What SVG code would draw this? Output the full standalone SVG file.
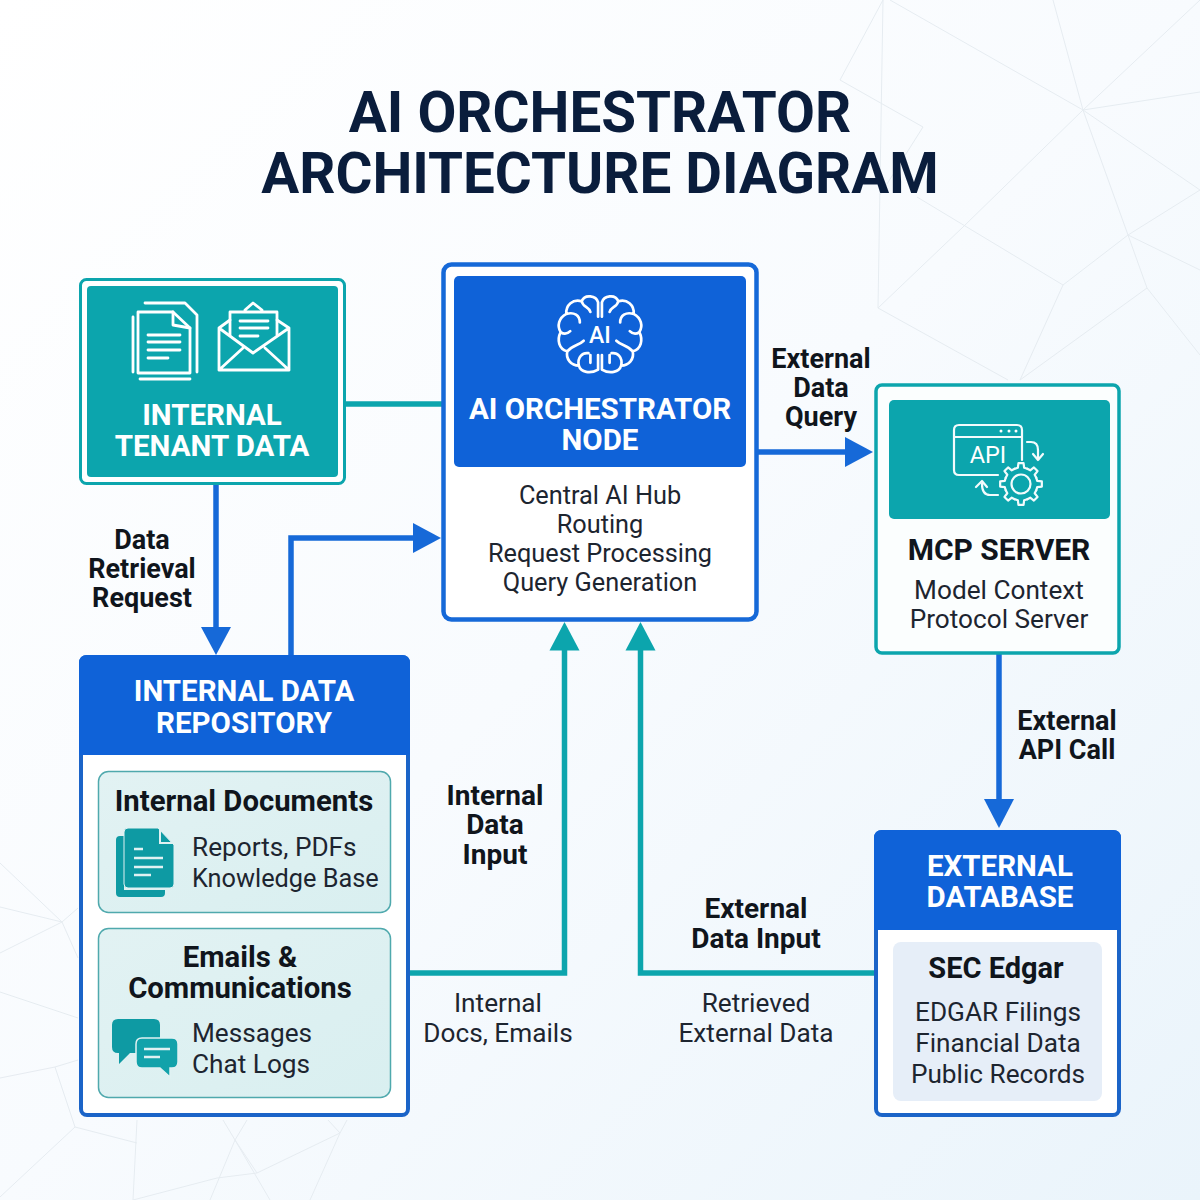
<svg xmlns="http://www.w3.org/2000/svg" width="1200" height="1200" viewBox="0 0 1200 1200">
<style>
text{font-family:Roboto,"Liberation Sans",sans-serif;text-anchor:middle}
.title{font-size:56.500px;font-weight:700;fill:#0a1d3c}
.hw{font-weight:700;fill:#fff;font-size:29.500px}
.lb{font-weight:700;fill:#10151c;font-size:27px}
.lb2{font-weight:700;fill:#10151c;font-size:28px}
.sub{font-weight:400;fill:#1d2530;font-size:26.200px}
.sub2{font-weight:400;fill:#1d2530;font-size:25.300px}
.head{font-weight:700;fill:#10151c;font-size:29.300px}
.st{text-anchor:start}
.ic{fill:none;stroke:#fff;stroke-width:2.800;stroke-linecap:round;stroke-linejoin:round}
.ic2{fill:none;stroke:#f2fbfc;stroke-width:2.200;stroke-linecap:round;stroke-linejoin:round}
.gl{fill:none;stroke:#e0f1f2;stroke-width:2.500}
.bg{fill:none;stroke:#e6ecf1;stroke-width:1}
.t{fill:none;stroke:#0ca5ad;stroke-width:5.500}
.b{fill:none;stroke:#1669d8;stroke-width:5.500}
.tf{fill:#0ca5ad}
.bf{fill:#1669d8}
</style>
<defs>
<linearGradient id="bgg" x1="0" y1="0" x2="1" y2="1"><stop offset="0" stop-color="#fff"/><stop offset=".5" stop-color="#f8fbfe"/><stop offset="1" stop-color="#eaf4fb"/></linearGradient>
<linearGradient id="card" x1="0" y1="0" x2="1" y2="1"><stop offset="0" stop-color="#e2f2f3"/><stop offset="1" stop-color="#d9eff0"/></linearGradient>
<path id="brain-half" d="M598 316V301C596 294 584 292 581 300C572 297 564 304 565 313C557 317 555 326 559 332C555 340 557 350 566 352C564 360 570 367 578 367C580 374 590 376 598 371V356M581 300C582 306 589 306 590 311M565 313C573 311 579 314 579 322M559 332C563 335 566 334 569 331M566 352C571 346 578 346 583 341M578 367C576 358 582 353 588 354M590 364V356"/>
<path id="tooth" d="M-6.310 -15.240L-3.150 -16.200L-2.560 -20.840H2.560L3.150 -16.200L6.310 -15.240"/>
</defs>
<rect width="1200" height="1200" fill="url(#bgg)"/>
<g id="background">
<path class="bg" d="M883 0L840 80L923 127L880 195M883 0L878 308L963 227L1083 110L1200 0M1083 110L1200 92M1083 110L1053 0M890 0L1083 110L1128 235L1147 288L1200 355M1083 110L1200 190L1128 235L1063 285L917 197M1200 270L1128 235M1063 285L1020 380M1147 288L1020 380M878 308L1008 380"/>
<path class="bg" d="M0 863L62 922L78 958M0 907L62 922L78 908M0 953L62 922M0 992L78 1018M0 1078L55 1067L78 1060M55 1067L75 1127L0 1197M75 1127L137 1143M137 1120L133 1200M223 1120L235 1140L270 1200M247 1120L235 1140L210 1200M235 1140L257 1173L340 1133L347 1120M328 1120L340 1133L310 1200M257 1173L217 1178L133 1200"/>
</g>
<text class="title" x="600" y="132">AI ORCHESTRATOR</text>
<text class="title" x="600" y="193">ARCHITECTURE DIAGRAM</text>
<g id="connectors">
<path class="t" d="M345 404H443"/>
<path class="b" d="M216 484V628"/><path class="bf" d="M201 627H231L216 655Z"/>
<path class="b" d="M291 656V538H414"/><path class="bf" d="M413 523L441 538L413 553Z"/>
<path class="b" d="M757 452H846"/><path class="bf" d="M845 437L873 452L845 467Z"/>
<path class="b" d="M999 654V800"/><path class="bf" d="M984 799H1014L999 828Z"/>
<path class="t" d="M409 973H564.500V650"/><path class="tf" d="M549.500 650.500L564.500 622L579.500 650.500Z"/>
<path class="t" d="M875 973H640.500V650"/><path class="tf" d="M625.500 650.500L640.500 622L655.500 650.500Z"/>
</g>
<g id="edge-labels">
<text class="lb" x="142" y="549">Data</text><text class="lb" x="142" y="578">Retrieval</text><text class="lb" x="142" y="607">Request</text>
<text class="lb" x="821" y="368">External</text><text class="lb" x="821" y="397">Data</text><text class="lb" x="821" y="426">Query</text>
<text class="lb" x="1067" y="730">External</text><text class="lb" x="1067" y="759">API Call</text>
<text class="lb2" x="495" y="805">Internal</text><text class="lb2" x="495" y="834">Data</text><text class="lb2" x="495" y="864">Input</text>
<text class="lb2" x="756" y="918">External</text><text class="lb2" x="756" y="948">Data Input</text>
<text class="sub" x="498" y="1012">Internal</text><text class="sub" x="498" y="1042">Docs, Emails</text>
<text class="sub" x="756" y="1012">Retrieved</text><text class="sub" x="756" y="1042">External Data</text>
</g>
<g id="internal-tenant-data">
<rect x="80.500" y="279.500" width="264" height="204" rx="6" fill="#fff" stroke="#0ca5ad" stroke-width="3"/>
<rect x="87" y="286" width="251" height="191" rx="4" fill="#0ca5ad"/>
<path class="ic" d="M145 303H185L197 315V372M133 317V372M140 379H190"/>
<path class="ic" d="M138 312H173L190 328V373H138Z"/>
<path class="ic" d="M173 312V325L190 328M148 335H180M148 342H180M148 350H180M148 358H168"/>
<path class="ic" d="M230 320L219 328V370H289V328L277 320M219 328L253 353L289 328M219 370L243 348M289 370L265 348"/>
<path class="ic" d="M230 335V312H277V335M245 310L253 303L262 310M240 321H268M240 328H268M240 336H258"/>
<text class="hw" x="212" y="425">INTERNAL</text><text class="hw" x="212" y="456">TENANT DATA</text>
</g>
<g id="ai-orchestrator-node">
<rect x="443.500" y="264.500" width="313" height="355" rx="8" fill="#fff" stroke="#1669d8" stroke-width="4.500"/>
<rect x="454" y="276" width="292" height="191" rx="5" fill="#0f62d8"/>
<g transform="translate(600,334) scale(.96) translate(-600,-334)">
<use href="#brain-half" class="ic"/>
<use href="#brain-half" class="ic" transform="translate(1200,0) scale(-1,1)"/>
</g>
<text x="600" y="343" fill="#fff" style="font-size:23px;font-weight:500">AI</text>
<text class="hw" x="600" y="419">AI ORCHESTRATOR</text><text class="hw" x="600" y="450">NODE</text>
<text class="sub2" x="600" y="504">Central AI Hub</text><text class="sub2" x="600" y="533">Routing</text><text class="sub2" x="600" y="562">Request Processing</text><text class="sub2" x="600" y="591">Query Generation</text>
</g>
<g id="mcp-server">
<rect x="876" y="385" width="243" height="268" rx="6" fill="#fbfefe" stroke="#0ca5ad" stroke-width="3.500"/>
<rect x="889" y="400" width="221" height="119" rx="5" fill="#0ca5ad"/>
<path class="ic2" d="M1022 460V430Q1022 425 1017 425H959Q954 425 954 430V470Q954 475 959 475H998M954 437H1022M1027 442H1031Q1038 442 1038 450V460M1033 454L1038 460L1043 454M998 495H990Q982 495 982 484M976 487L982 481L987 487"/>
<circle class="ic2" cx="1021" cy="484" r="9.500"/>
<g class="ic2" transform="translate(1021,484)">
<use href="#tooth"/><use href="#tooth" transform="rotate(45)"/><use href="#tooth" transform="rotate(90)"/><use href="#tooth" transform="rotate(135)"/><use href="#tooth" transform="rotate(180)"/><use href="#tooth" transform="rotate(225)"/><use href="#tooth" transform="rotate(270)"/><use href="#tooth" transform="rotate(315)"/>
</g>
<circle cx="1001" cy="431" r="1.500" fill="#fff"/><circle cx="1009" cy="431" r="1.500" fill="#fff"/><circle cx="1016" cy="431" r="1.500" fill="#fff"/>
<text x="988" y="463" fill="#fff" style="font-size:23.500px;font-weight:400">API</text>
<text class="head" x="999" y="560" style="font-size:30px">MCP SERVER</text>
<text class="sub" x="999" y="599">Model Context</text><text class="sub" x="999" y="628">Protocol Server</text>
</g>
<g id="internal-data-repository">
<rect x="81" y="657" width="327" height="458" rx="6" fill="#fff" stroke="#1b64c8" stroke-width="4"/>
<path d="M79 755V663Q79 655 87 655H402Q410 655 410 663V755Z" fill="#0f62d8"/>
<text class="hw" x="244" y="701">INTERNAL DATA</text><text class="hw" x="244" y="733">REPOSITORY</text>
<rect x="98.500" y="771.500" width="292" height="141" rx="10" fill="url(#card)" stroke="#4fa9ad" stroke-width="1.500"/>
<text class="head" x="244" y="811">Internal Documents</text>
<path d="M120 836H124V890H165V893Q165 897 161 897H120Q116 897 116 893V840Q116 836 120 836Z" fill="#0e9aa3"/>
<path d="M128 828H158L174 845V884Q174 888 170 888H128Q124 888 124 884V832Q124 828 128 828Z" fill="#0e9aa3" stroke="#e0f1f2" stroke-width="1"/>
<path d="M160 827V843H176" fill="none" stroke="#e0f1f2" stroke-width="2"/>
<path class="gl" d="M134 849H143M134 858H163M134 867H163M134 875H151"/>
<text class="sub st" x="192" y="856">Reports, PDFs</text><text class="sub st" x="192" y="887" style="font-size:25.300px">Knowledge Base</text>
<rect x="98.500" y="928.500" width="292" height="169" rx="10" fill="url(#card)" stroke="#4fa9ad" stroke-width="1.500"/>
<text class="head" x="240" y="967">Emails &amp;</text><text class="head" x="240" y="998">Communications</text>
<path d="M118 1019H154Q160 1019 160 1025V1053H130L119 1064V1053H118Q112 1053 112 1047V1025Q112 1019 118 1019Z" fill="#0e9aa3"/>
<path d="M142 1038H172Q178 1038 178 1044V1062Q178 1068 172 1068H170V1077L160 1068H142Q136 1068 136 1062V1044Q136 1038 142 1038Z" fill="#12a2aa" stroke="#e0f1f2" stroke-width="1.500"/>
<path class="gl" d="M144 1049H170M144 1057H160"/>
<text class="sub st" x="192" y="1042">Messages</text><text class="sub st" x="192" y="1073">Chat Logs</text>
</g>
<g id="external-database">
<rect x="876" y="832" width="243" height="283" rx="6" fill="#fff" stroke="#1b64c8" stroke-width="4"/>
<path d="M874 930V838Q874 830 882 830H1113Q1121 830 1121 838V930Z" fill="#0f62d8"/>
<text class="hw" x="1000" y="876">EXTERNAL</text><text class="hw" x="1000" y="907">DATABASE</text>
<rect x="893" y="942" width="209" height="159" rx="8" fill="#e6eef8"/>
<text class="head" x="996" y="978" style="font-size:29px">SEC Edgar</text>
<text class="sub" x="998" y="1021">EDGAR Filings</text><text class="sub" x="998" y="1052">Financial Data</text><text class="sub" x="998" y="1083">Public Records</text>
</g>
</svg>
